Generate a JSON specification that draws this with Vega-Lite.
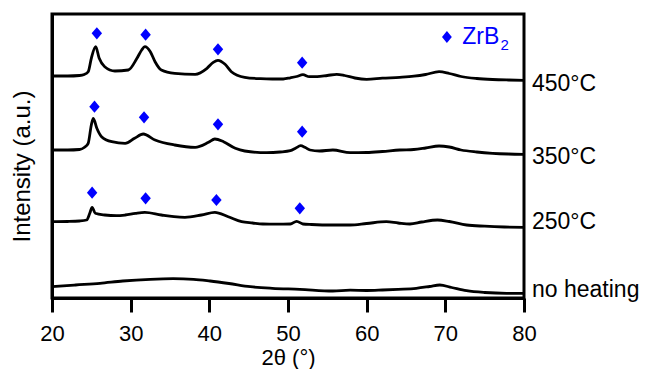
{
  "$schema": "https://vega.github.io/schema/vega-lite/v6.json",
  "autosize": "none",
  "padding": {"left": 52, "top": 14, "right": 121, "bottom": 71},
  "width": 472,
  "height": 284,
  "config": {
    "font": "Liberation Sans",
    "view": {"stroke": "black", "strokeWidth": 3},
    "axis": {"grid": false, "domainColor": "black", "domainWidth": 3, "tickColor": "black", "tickWidth": 3, "labelColor": "black", "titleColor": "black", "titleFontWeight": "normal"}
  },
  "datasets": {
    "curves": [
      {"sample": "450°C", "theta": 20, "intensity": 222},
      {"sample": "450°C", "theta": 22, "intensity": 222},
      {"sample": "450°C", "theta": 23.5, "intensity": 222.5},
      {"sample": "450°C", "theta": 24.1, "intensity": 223.5},
      {"sample": "450°C", "theta": 24.6, "intensity": 226.3},
      {"sample": "450°C", "theta": 25.0, "intensity": 239.7},
      {"sample": "450°C", "theta": 25.55, "intensity": 251.3},
      {"sample": "450°C", "theta": 26.0, "intensity": 239.7},
      {"sample": "450°C", "theta": 26.7, "intensity": 231.3},
      {"sample": "450°C", "theta": 28.0, "intensity": 227},
      {"sample": "450°C", "theta": 29.7, "intensity": 228},
      {"sample": "450°C", "theta": 30.8, "intensity": 239.7},
      {"sample": "450°C", "theta": 31.4, "intensity": 248},
      {"sample": "450°C", "theta": 31.8, "intensity": 251.3},
      {"sample": "450°C", "theta": 32.5, "intensity": 246.3},
      {"sample": "450°C", "theta": 33.1, "intensity": 236.3},
      {"sample": "450°C", "theta": 33.9, "intensity": 228},
      {"sample": "450°C", "theta": 35.6, "intensity": 224.7},
      {"sample": "450°C", "theta": 38.2, "intensity": 223.7},
      {"sample": "450°C", "theta": 39.7, "intensity": 229.7},
      {"sample": "450°C", "theta": 40.5, "intensity": 235.7},
      {"sample": "450°C", "theta": 41.1, "intensity": 237.7},
      {"sample": "450°C", "theta": 42.0, "intensity": 233.7},
      {"sample": "450°C", "theta": 42.8, "intensity": 226.3},
      {"sample": "450°C", "theta": 44.5, "intensity": 220.7},
      {"sample": "450°C", "theta": 46.5, "intensity": 219.3},
      {"sample": "450°C", "theta": 48, "intensity": 219},
      {"sample": "450°C", "theta": 49.4, "intensity": 219},
      {"sample": "450°C", "theta": 50.3, "intensity": 220.2},
      {"sample": "450°C", "theta": 51.1, "intensity": 221.5},
      {"sample": "450°C", "theta": 51.9, "intensity": 223.3},
      {"sample": "450°C", "theta": 52.7, "intensity": 221.3},
      {"sample": "450°C", "theta": 53.7, "intensity": 221.3},
      {"sample": "450°C", "theta": 55, "intensity": 222.5},
      {"sample": "450°C", "theta": 56.2, "intensity": 223.7},
      {"sample": "450°C", "theta": 57.2, "intensity": 222.5},
      {"sample": "450°C", "theta": 58.5, "intensity": 220},
      {"sample": "450°C", "theta": 60, "intensity": 218.7},
      {"sample": "450°C", "theta": 62, "intensity": 219.8},
      {"sample": "450°C", "theta": 64.2, "intensity": 220.7},
      {"sample": "450°C", "theta": 66, "intensity": 221.8},
      {"sample": "450°C", "theta": 67.5, "intensity": 223.5},
      {"sample": "450°C", "theta": 69.2, "intensity": 226.3},
      {"sample": "450°C", "theta": 70.5, "intensity": 224.5},
      {"sample": "450°C", "theta": 72, "intensity": 221.5},
      {"sample": "450°C", "theta": 74, "intensity": 219.5},
      {"sample": "450°C", "theta": 76, "intensity": 218.5},
      {"sample": "450°C", "theta": 78, "intensity": 218},
      {"sample": "450°C", "theta": 80, "intensity": 217.7},

      {"sample": "350°C", "theta": 20, "intensity": 148},
      {"sample": "350°C", "theta": 22, "intensity": 148},
      {"sample": "350°C", "theta": 23.5, "intensity": 148.5},
      {"sample": "350°C", "theta": 24.1, "intensity": 150.5},
      {"sample": "350°C", "theta": 24.6, "intensity": 154.7},
      {"sample": "350°C", "theta": 25.0, "intensity": 173},
      {"sample": "350°C", "theta": 25.25, "intensity": 179.7},
      {"sample": "350°C", "theta": 25.7, "intensity": 169.7},
      {"sample": "350°C", "theta": 26.3, "intensity": 161.3},
      {"sample": "350°C", "theta": 27.6, "intensity": 156.3},
      {"sample": "350°C", "theta": 29.3, "intensity": 154.7},
      {"sample": "350°C", "theta": 30.5, "intensity": 159.7},
      {"sample": "350°C", "theta": 31.6, "intensity": 164},
      {"sample": "350°C", "theta": 33.1, "intensity": 158},
      {"sample": "350°C", "theta": 35.6, "intensity": 153},
      {"sample": "350°C", "theta": 38.2, "intensity": 150.7},
      {"sample": "350°C", "theta": 39.9, "intensity": 155.7},
      {"sample": "350°C", "theta": 40.7, "intensity": 159},
      {"sample": "350°C", "theta": 41.8, "intensity": 156.3},
      {"sample": "350°C", "theta": 43.3, "intensity": 149.7},
      {"sample": "350°C", "theta": 44.5, "intensity": 147},
      {"sample": "350°C", "theta": 47.3, "intensity": 145.3},
      {"sample": "350°C", "theta": 49, "intensity": 146},
      {"sample": "350°C", "theta": 50.3, "intensity": 147.3},
      {"sample": "350°C", "theta": 51.0, "intensity": 150},
      {"sample": "350°C", "theta": 51.6, "intensity": 152.3},
      {"sample": "350°C", "theta": 52.2, "intensity": 150.5},
      {"sample": "350°C", "theta": 52.8, "intensity": 148},
      {"sample": "350°C", "theta": 54, "intensity": 147},
      {"sample": "350°C", "theta": 55.7, "intensity": 148},
      {"sample": "350°C", "theta": 57.9, "intensity": 145.3},
      {"sample": "350°C", "theta": 60, "intensity": 145.5},
      {"sample": "350°C", "theta": 62, "intensity": 146.5},
      {"sample": "350°C", "theta": 64.2, "intensity": 148},
      {"sample": "350°C", "theta": 66, "intensity": 148.5},
      {"sample": "350°C", "theta": 67.5, "intensity": 150},
      {"sample": "350°C", "theta": 69.2, "intensity": 152},
      {"sample": "350°C", "theta": 70.5, "intensity": 151},
      {"sample": "350°C", "theta": 72, "intensity": 148},
      {"sample": "350°C", "theta": 74, "intensity": 146},
      {"sample": "350°C", "theta": 76, "intensity": 144.7},
      {"sample": "350°C", "theta": 78, "intensity": 144},
      {"sample": "350°C", "theta": 80, "intensity": 143.7},

      {"sample": "250°C", "theta": 20, "intensity": 76.3},
      {"sample": "250°C", "theta": 22, "intensity": 76.5},
      {"sample": "250°C", "theta": 23.5, "intensity": 77},
      {"sample": "250°C", "theta": 24.4, "intensity": 78},
      {"sample": "250°C", "theta": 24.8, "intensity": 84.7},
      {"sample": "250°C", "theta": 25.1, "intensity": 90.7},
      {"sample": "250°C", "theta": 25.5, "intensity": 84.7},
      {"sample": "250°C", "theta": 26.7, "intensity": 83},
      {"sample": "250°C", "theta": 28.2, "intensity": 82.3},
      {"sample": "250°C", "theta": 29.3, "intensity": 83},
      {"sample": "250°C", "theta": 30.6, "intensity": 84.7},
      {"sample": "250°C", "theta": 31.8, "intensity": 85.7},
      {"sample": "250°C", "theta": 33.9, "intensity": 83},
      {"sample": "250°C", "theta": 35.5, "intensity": 81.3},
      {"sample": "250°C", "theta": 36.9, "intensity": 80.7},
      {"sample": "250°C", "theta": 39.0, "intensity": 83},
      {"sample": "250°C", "theta": 40.7, "intensity": 85.7},
      {"sample": "250°C", "theta": 42.4, "intensity": 81.3},
      {"sample": "250°C", "theta": 44.1, "intensity": 76.3},
      {"sample": "250°C", "theta": 45.5, "intensity": 75},
      {"sample": "250°C", "theta": 46.8, "intensity": 74},
      {"sample": "250°C", "theta": 48.5, "intensity": 73.8},
      {"sample": "250°C", "theta": 50.3, "intensity": 74},
      {"sample": "250°C", "theta": 51.1, "intensity": 76.7},
      {"sample": "250°C", "theta": 51.9, "intensity": 74},
      {"sample": "250°C", "theta": 53, "intensity": 73.5},
      {"sample": "250°C", "theta": 55.7, "intensity": 73},
      {"sample": "250°C", "theta": 57.9, "intensity": 73},
      {"sample": "250°C", "theta": 60, "intensity": 74.5},
      {"sample": "250°C", "theta": 62.5, "intensity": 76.3},
      {"sample": "250°C", "theta": 64, "intensity": 75},
      {"sample": "250°C", "theta": 65.5, "intensity": 74},
      {"sample": "250°C", "theta": 67, "intensity": 76},
      {"sample": "250°C", "theta": 69, "intensity": 78},
      {"sample": "250°C", "theta": 70.5, "intensity": 76.5},
      {"sample": "250°C", "theta": 72.7, "intensity": 73},
      {"sample": "250°C", "theta": 75, "intensity": 71.8},
      {"sample": "250°C", "theta": 77.5, "intensity": 71},
      {"sample": "250°C", "theta": 80, "intensity": 70.7},

      {"sample": "no heating", "theta": 20, "intensity": 11.3},
      {"sample": "no heating", "theta": 23, "intensity": 13},
      {"sample": "no heating", "theta": 26.1, "intensity": 14.7},
      {"sample": "no heating", "theta": 29, "intensity": 17},
      {"sample": "no heating", "theta": 32.5, "intensity": 18.7},
      {"sample": "no heating", "theta": 35.4, "intensity": 19.3},
      {"sample": "no heating", "theta": 38, "intensity": 18.7},
      {"sample": "no heating", "theta": 40.1, "intensity": 17},
      {"sample": "no heating", "theta": 42.5, "intensity": 14.5},
      {"sample": "no heating", "theta": 45.2, "intensity": 11.3},
      {"sample": "no heating", "theta": 48, "intensity": 9.7},
      {"sample": "no heating", "theta": 51.5, "intensity": 8.7},
      {"sample": "no heating", "theta": 55.7, "intensity": 7},
      {"sample": "no heating", "theta": 57.9, "intensity": 7.8},
      {"sample": "no heating", "theta": 60, "intensity": 7.5},
      {"sample": "no heating", "theta": 62, "intensity": 8},
      {"sample": "no heating", "theta": 64, "intensity": 8.7},
      {"sample": "no heating", "theta": 66.3, "intensity": 9.7},
      {"sample": "no heating", "theta": 68, "intensity": 11.5},
      {"sample": "no heating", "theta": 69.3, "intensity": 13},
      {"sample": "no heating", "theta": 70.8, "intensity": 10.5},
      {"sample": "no heating", "theta": 72.7, "intensity": 7.3},
      {"sample": "no heating", "theta": 75, "intensity": 5.5},
      {"sample": "no heating", "theta": 77.8, "intensity": 4.7},
      {"sample": "no heating", "theta": 80, "intensity": 4.7}
    ],
    "peaks": [
      {"sample": "450°C", "theta": 25.7, "intensity": 264.7},
      {"sample": "450°C", "theta": 31.9, "intensity": 263.3},
      {"sample": "450°C", "theta": 41.1, "intensity": 248.7},
      {"sample": "450°C", "theta": 51.8, "intensity": 235.3},
      {"sample": "350°C", "theta": 25.4, "intensity": 191.3},
      {"sample": "350°C", "theta": 31.7, "intensity": 180.7},
      {"sample": "350°C", "theta": 41.1, "intensity": 173.7},
      {"sample": "350°C", "theta": 51.8, "intensity": 166.3},
      {"sample": "250°C", "theta": 25.1, "intensity": 105.3},
      {"sample": "250°C", "theta": 31.9, "intensity": 99.7},
      {"sample": "250°C", "theta": 40.9, "intensity": 98},
      {"sample": "250°C", "theta": 51.5, "intensity": 89.7}
    ],
    "labels": [
      {"text": "450°C", "theta": 80, "intensity": 207},
      {"text": "350°C", "theta": 80, "intensity": 134},
      {"text": "250°C", "theta": 80, "intensity": 69},
      {"text": "no heating", "theta": 80, "intensity": 1.3}
    ],
    "keySymbol": [{"theta": 70.2, "intensity": 261}],
    "keyText": [{"text": "ZrB", "theta": 72.16, "intensity": 254}],
    "keySub": [{"text": "2", "theta": 77.0, "intensity": 248}]
  },
  "encoding": {
    "x": {
      "field": "theta", "type": "quantitative",
      "scale": {"domain": [20, 80], "nice": false, "zero": false},
      "axis": {
        "values": [20, 30, 40, 50, 60, 70, 80],
        "ticks": true, "tickSize": 14,
        "labelFontSize": 22, "labelPadding": 11, "labelFlush": false,
        "title": "2θ (°)", "titleFontSize": 22, "titlePadding": 3
      }
    },
    "y": {
      "field": "intensity", "type": "quantitative",
      "scale": {"domain": [0, 284], "nice": false, "zero": false},
      "axis": {
        "ticks": false, "labels": false,
        "title": "Intensity (a.u.)", "titleFontSize": 24, "titlePadding": 18, "titleY": 152
      }
    }
  },
  "layer": [
    {
      "data": {"name": "curves"},
      "mark": {"type": "line", "color": "black", "strokeWidth": 2.8, "interpolate": "monotone"},
      "encoding": {"detail": {"field": "sample"}}
    },
    {
      "data": {"name": "peaks"},
      "mark": {"type": "point", "shape": "M-0.85,0L0,-1L0.85,0L0,1Z", "filled": true, "color": "#0000ff", "opacity": 1, "size": 150}
    },
    {
      "data": {"name": "keySymbol"},
      "mark": {"type": "point", "shape": "M-0.8,0L0,-1L0.8,0L0,1Z", "filled": true, "color": "#0000ff", "opacity": 1, "size": 150}
    },
    {
      "data": {"name": "labels"},
      "mark": {"type": "text", "align": "left", "baseline": "alphabetic", "dx": 8, "fontSize": 23, "color": "black"},
      "encoding": {"text": {"field": "text"}}
    },
    {
      "data": {"name": "keyText"},
      "mark": {"type": "text", "align": "left", "baseline": "alphabetic", "fontSize": 23, "color": "#0000ff"},
      "encoding": {"text": {"field": "text"}}
    },
    {
      "data": {"name": "keySub"},
      "mark": {"type": "text", "align": "left", "baseline": "alphabetic", "fontSize": 15, "color": "#0000ff"},
      "encoding": {"text": {"field": "text"}}
    }
  ]
}
